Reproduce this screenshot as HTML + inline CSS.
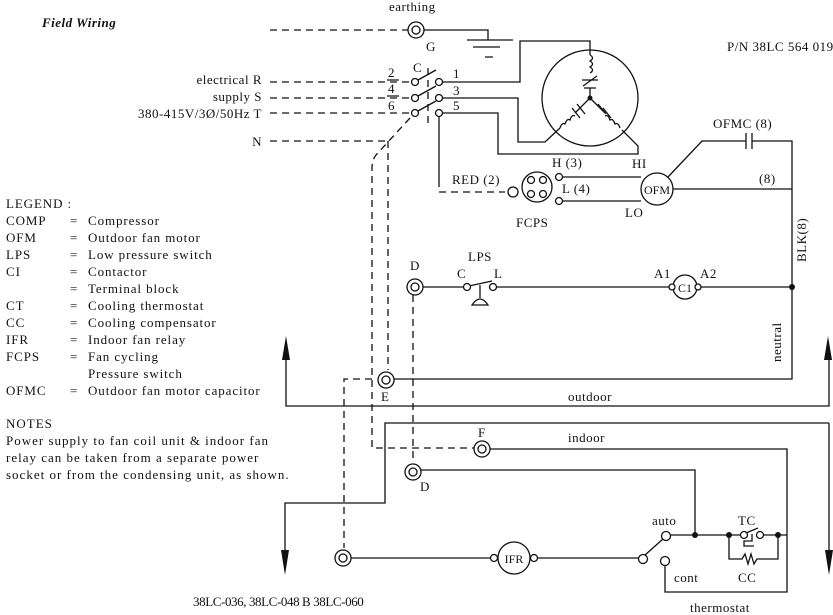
<!DOCTYPE html>
<html><head><meta charset="utf-8"><style>
html,body{margin:0;padding:0;background:#fff;}
svg{display:block;}
text{font-family:"Liberation Serif",serif;font-size:13px;fill:#111;letter-spacing:0.5px;}
.lg text{letter-spacing:0.9px;}
.nt text{letter-spacing:1.0px;}
.s{stroke:#111;stroke-width:1.3;fill:none;}
.d{stroke:#111;stroke-width:1.3;fill:none;stroke-dasharray:7,5;}
.c{stroke:#111;stroke-width:1.3;fill:#fff;}
</style></head><body>
<svg width="833" height="615" viewBox="0 0 833 615" xmlns="http://www.w3.org/2000/svg">
<text x="42" y="27" style="font-weight:bold;font-style:italic;font-size:13px">Field Wiring</text>
<text x="727" y="51">P/N 38LC 564 019</text>
<text x="389" y="11">earthing</text>
<text x="262" y="84" text-anchor="end">electrical R</text>
<text x="262" y="101" text-anchor="end">supply S</text>
<text x="262" y="118" text-anchor="end">380-415V/3Ø/50Hz T</text>
<text x="262" y="146" text-anchor="end">N</text>

<g class="lg">
<text x="6" y="208">LEGEND :</text>
<text x="6" y="225">COMP</text><text x="70" y="225">=</text><text x="88" y="225">Compressor</text>
<text x="6" y="242">OFM</text><text x="70" y="242">=</text><text x="88" y="242">Outdoor fan motor</text>
<text x="6" y="259">LPS</text><text x="70" y="259">=</text><text x="88" y="259">Low pressure switch</text>
<text x="6" y="276">CI</text><text x="70" y="276">=</text><text x="88" y="276">Contactor</text>
<text x="70" y="293">=</text><text x="88" y="293">Terminal block</text>
<text x="6" y="310">CT</text><text x="70" y="310">=</text><text x="88" y="310">Cooling thermostat</text>
<text x="6" y="327">CC</text><text x="70" y="327">=</text><text x="88" y="327">Cooling compensator</text>
<text x="6" y="344">IFR</text><text x="70" y="344">=</text><text x="88" y="344">Indoor fan relay</text>
<text x="6" y="361">FCPS</text><text x="70" y="361">=</text><text x="88" y="361">Fan cycling</text>
<text x="88" y="378">Pressure switch</text>
<text x="6" y="395">OFMC</text><text x="70" y="395">=</text><text x="88" y="395">Outdoor fan motor capacitor</text>
</g>
<g class="nt">
<text x="6" y="428">NOTES</text>
<text x="6" y="445">Power supply to fan coil unit &amp; indoor fan</text>
<text x="6" y="462">relay can be taken from a separate power</text>
<text x="6" y="479">socket or from the condensing unit, as shown.</text>
</g>
<text x="193" y="606" style="letter-spacing:-0.4px">38LC-036, 38LC-048 B 38LC-060</text>

<path class="d" d="M270 30H408 M270 82H410 M270 98H410 M270 113H410 M270 141H388"/>
<path class="d" d="M428 68V128 M410 118L376 155 Q372 160 372 168 V448 H474"/>
<path class="d" d="M388 141V370"/>
<path class="d" d="M372 379H344V548"/>
<path class="d" d="M413 295V462"/>
<path class="d" d="M439 180V192H505"/>

<circle class="c" cx="416" cy="30" r="8"/><circle class="s" cx="416" cy="30" r="4"/>
<text x="426" y="51">G</text>
<path class="s" d="M424 30H488V40 M467 40H513 M473 47H500 M485 57H493"/>

<text x="388" y="77">2</text><text x="388" y="93">4</text><text x="388" y="110">6</text>
<path class="s" d="M387 80H399 M387 96H399"/>
<text x="413" y="72">C</text>
<text x="453" y="78">1</text><text x="453" y="95">3</text><text x="453" y="110">5</text>
<g class="s">
<path d="M418 80L436 70 M418 96L436 86 M418 111L436 101"/>
</g>
<circle class="c" cx="415" cy="82" r="3.5"/><circle class="c" cx="439" cy="82" r="3.5"/>
<circle class="c" cx="415" cy="98" r="3.5"/><circle class="c" cx="439" cy="98" r="3.5"/>
<circle class="c" cx="415" cy="113" r="3.5"/><circle class="c" cx="439" cy="113" r="3.5"/>

<path class="s" d="M443 82H520V41H590V55 M443 98H518V142H545L560 128 M443 113H498V154H638V146L622 130 M439 117V180"/>
<circle class="s" cx="590" cy="98" r="48"/>
<path class="s" d="M590 55 q5 3 0 6 q5 3 0 6 q5 3 0 6 M582 80H598 M583 86L597 76 M584 88H596 M590 88V98 L575 113 M590 98 L605 113"/>
<circle cx="590" cy="98" r="2.5" fill="#111"/>
<path class="s" d="M572 108L580 118 M577 104L585 114 M598 104L606 114 M603 108 L611 118"/>
<path class="s" d="M560 128 q2 -6 5 -4 q2 -6 5 -4 q2 -6 5 -4 M620 128 q-2 -6 -5 -4 q-2 -6 -5 -4 q-2 -6 -5 -4"/>

<circle class="s" cx="537" cy="187" r="15"/>
<circle class="c" cx="531" cy="180" r="3.5"/><circle class="c" cx="543" cy="180" r="3.5"/>
<circle class="c" cx="531" cy="194" r="3.5"/><circle class="c" cx="543" cy="194" r="3.5"/>
<circle class="c" cx="513" cy="192" r="5"/>
<circle class="c" cx="559" cy="177" r="3.5"/><circle class="c" cx="559" cy="201" r="3.5"/>
<path class="s" d="M563 177H641 M563 201H641"/>
<circle class="c" cx="657" cy="189" r="16"/>
<text x="657" y="194" text-anchor="middle" style="font-size:12px;letter-spacing:0">OFM</text>
<text x="552" y="167">H (3)</text><text x="562" y="193">L (4)</text>
<text x="452" y="184">RED (2)</text><text x="516" y="227">FCPS</text>
<text x="632" y="168">HI</text><text x="625" y="217">LO</text>
<path class="s" d="M668 177L702 141H746 M752 141H792V379H394 M673 189H792"/>
<path class="s" d="M746 133V149 M752 133V149"/>
<text x="713" y="128">OFMC (8)</text>
<text x="759" y="183">(8)</text>
<text x="0" y="0" transform="translate(806,262) rotate(-90)">BLK(8)</text>
<text x="0" y="0" transform="translate(781,362) rotate(-90)">neutral</text>

<circle class="c" cx="415" cy="287" r="8"/><circle class="s" cx="415" cy="287" r="4"/>
<text x="410" y="270">D</text>
<text x="468" y="261">LPS</text><text x="457" y="278">C</text><text x="494" y="278">L</text>
<path class="s" d="M423 287H463 M497 287H673 M469 286L492 281 M480 285V298 M472 305 Q480 293 488 305Z M698 287H792"/>
<circle class="c" cx="467" cy="287" r="3.5"/><circle class="c" cx="493" cy="287" r="3.5"/>
<circle class="c" cx="685" cy="287" r="12"/>
<text x="685" y="292" text-anchor="middle" style="font-size:12px;letter-spacing:0">C1</text>
<circle class="c" cx="672" cy="287" r="3"/><circle class="c" cx="698" cy="287" r="3"/>
<text x="654" y="278">A1</text><text x="700" y="278">A2</text>
<circle cx="792" cy="287" r="3" fill="#111"/>

<circle class="c" cx="386" cy="380" r="8"/><circle class="s" cx="386" cy="380" r="4"/>
<text x="381" y="401">E</text>

<path class="s" d="M286 350V406H829V350"/>
<path d="M286 336L290 360H282Z M828 336L832 360H824Z" fill="#111"/>
<text x="568" y="401">outdoor</text>

<path class="s" d="M829 423H385V503H285V550 M829 423V550"/>
<path d="M285 575L289 550H281Z M829 575L833 550H825Z" fill="#111"/>
<text x="568" y="442">indoor</text>

<circle class="c" cx="482" cy="449" r="8"/><circle class="s" cx="482" cy="449" r="4"/>
<text x="478" y="437">F</text>
<path class="s" d="M490 449H787V592H665V566"/>

<circle class="c" cx="413" cy="472" r="8"/><circle class="s" cx="413" cy="472" r="4"/>
<text x="420" y="491">D</text>
<path class="s" d="M421 470H695V535"/>

<circle class="c" cx="343" cy="558" r="8"/><circle class="s" cx="343" cy="558" r="4"/>
<path class="s" d="M351 558H490 M538 558H640 M645 555L663 539"/>
<circle class="c" cx="514" cy="558" r="16"/>
<text x="514" y="563" text-anchor="middle" style="font-size:12px;letter-spacing:0">IFR</text>
<circle class="c" cx="494" cy="558" r="3.5"/><circle class="c" cx="534" cy="558" r="3.5"/>
<circle class="c" cx="643" cy="559" r="4.5"/>
<circle class="c" cx="666" cy="536" r="4.5"/>
<circle class="c" cx="665" cy="561" r="4.5"/>
<path class="s" d="M671 535H741 M763 535H787 M729 535V559H742 l3 -5 l3 10 l3 -10 l3 10 l3 -5 H778V535"/>
<path class="s" d="M746 533L758 528 M752 534V541H744V546H754"/>
<circle class="c" cx="744" cy="535" r="3.5"/><circle class="c" cx="760" cy="535" r="3.5"/>
<circle cx="695" cy="535" r="3" fill="#111"/><circle cx="729" cy="535" r="3" fill="#111"/><circle cx="778" cy="535" r="3" fill="#111"/>
<text x="652" y="525">auto</text><text x="738" y="525">TC</text>
<text x="674" y="582">cont</text><text x="738" y="582">CC</text>
<text x="690" y="612">thermostat</text>
</svg>
</body></html>
